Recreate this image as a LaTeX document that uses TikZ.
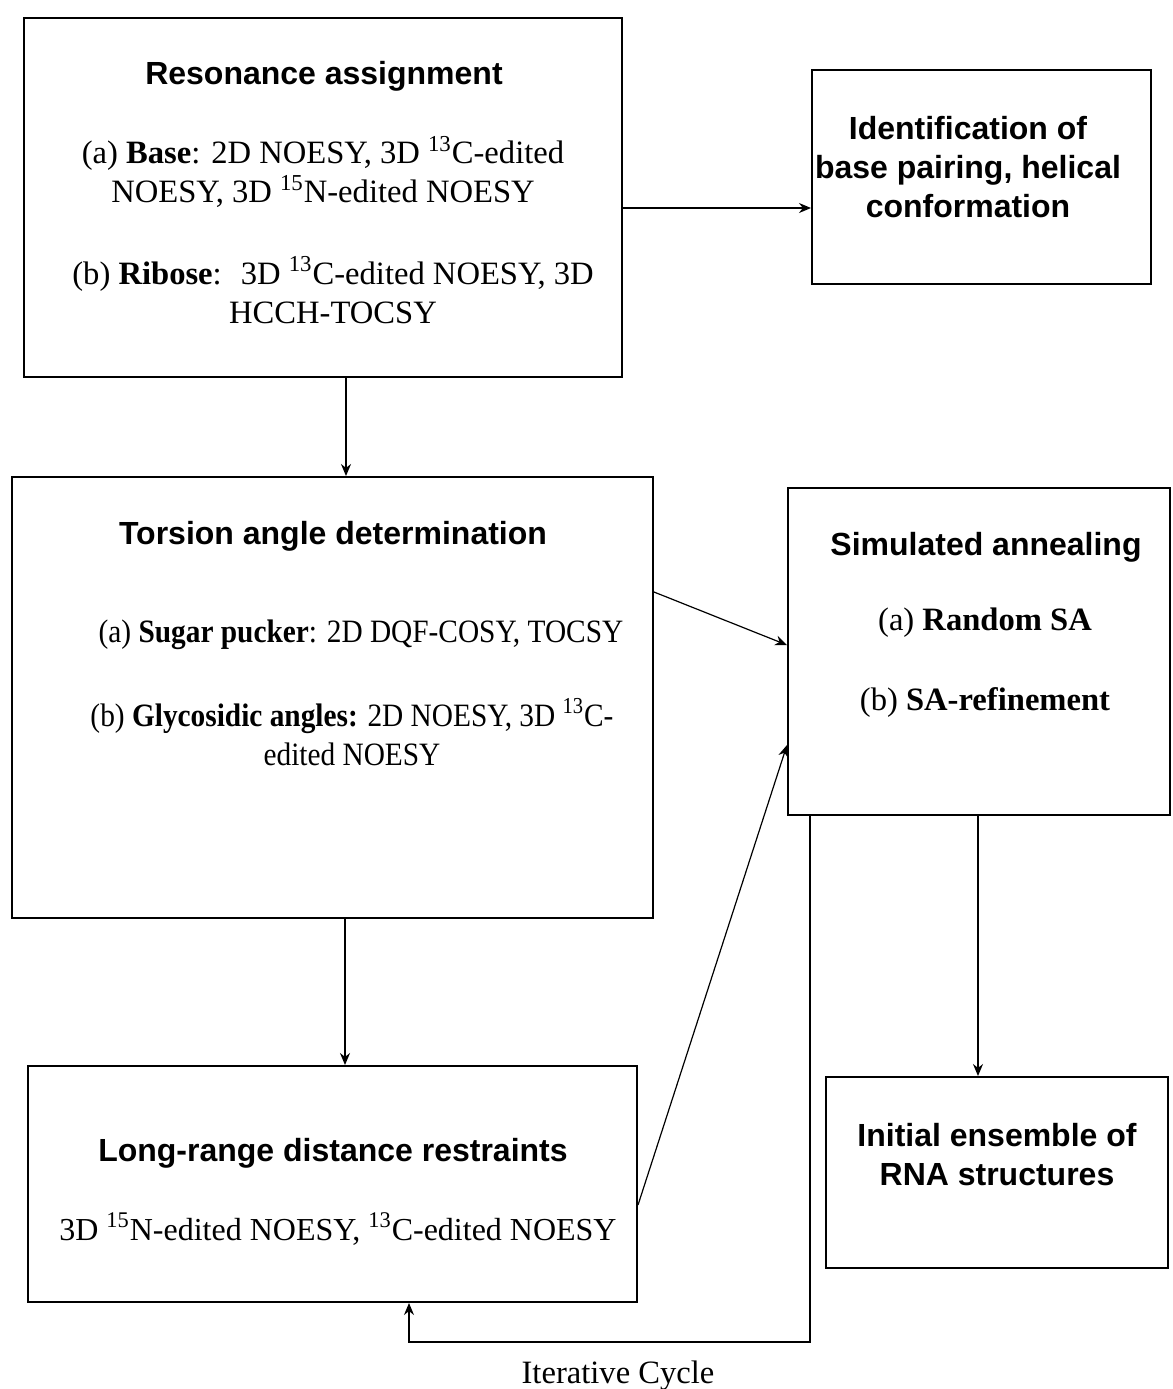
\documentclass[tikz,border=0pt]{standalone}
\usepackage{fontspec}
\setmainfont{Liberation Serif}
\newfontfamily\hv{Liberation Sans}
\newfontfamily\narrowserif[FakeStretch=0.9]{Liberation Serif}
\usetikzlibrary{arrows.meta,fit}
\begin{document}
\begin{tikzpicture}[x=0.5pt,y=-0.5pt,
 box/.style={draw,line width=1pt,inner sep=0pt},
 ttl/.style={font=\hv\bfseries\fontsize{16}{19.5}\selectfont,align=center,inner sep=0pt},
 txt/.style={font=\fontsize{16.3}{19.5}\selectfont,align=center,inner sep=0pt},
 txs/.style={font=\narrowserif\fontsize{16.3}{19.5}\selectfont,align=center,inner sep=0pt},
 arr/.style={-{Stealth[length=6pt,width=5pt]},line width=0.6pt}]
\useasboundingbox (0,0) rectangle (1173,1389);
% boxes
\node[box,fit={(24,18)(622,377)}] (b1) {};
\node[box,fit={(812,70)(1151,284)}] (b2) {};
\node[box,fit={(12,477)(653,918)}] (b3) {};
\node[box,fit={(788,488)(1170,815)}] (b4) {};
\node[box,fit={(28,1066)(637,1302)}] (b5) {};
\node[box,fit={(826,1077)(1168,1268)}] (b6) {};
% texts
\node[ttl] (t1) at (324,76) {Resonance assignment};
\node[txt] (t1a) at (323,172) {(a) \textbf{Base}: 2D NOESY, 3D \textsuperscript{13}C-edited\\NOESY, 3D \textsuperscript{15}N-edited NOESY};
\node[txt] (t1b) at (333,290) {(b) \textbf{Ribose}:~ 3D \textsuperscript{13}C-edited NOESY, 3D\\HCCH-TOCSY};
\node[ttl] (t2) at (968,167) {Identification of\\base pairing, helical\\conformation};
\node[ttl] (t3) at (333,536) {Torsion angle determination};
\node[txs] (t3a) at (361,635) {(a) \textbf{Sugar pucker}: 2D DQF-COSY, TOCSY};
\node[txs] (t3b) at (352,732) {(b) \textbf{Glycosidic angles:} 2D NOESY, 3D \textsuperscript{13}C-\\edited NOESY};
\node[ttl] (t4) at (986,547) {Simulated annealing};
\node[txt] (t4a) at (985,623) {(a) \textbf{Random SA}};
\node[txt] (t4b) at (985,702) {(b) \textbf{SA-refinement}};
\node[ttl] (t5) at (333,1153) {Long-range distance restraints};
\node[txt,font=\fontsize{16}{19.5}\selectfont] (t5a) at (338,1229) {3D \textsuperscript{15}N-edited NOESY, \textsuperscript{13}C-edited NOESY};
\node[ttl] (t6) at (997,1155) {Initial ensemble of\\RNA structures};
\node[txt] (lab) at (618,1376) {Iterative Cycle};
% connectors
\draw[arr] (b1.east |- 0,208) -- (b2.west |- 0,208);
\draw[arr] (b1.south -| 346,0) -- (b3.north -| 346,0);
\draw[arr] (b3.east |- 0,592) -- (b4.west |- 0,645);
\draw[arr] (b5.east |- 0,1205) -- (b4.west |- 0,745);
\draw[arr] (b3.south -| 345,0) -- (b5.north -| 345,0);
\draw[arr] (b4.south -| 978,0) -- (b6.north -| 978,0);
\coordinate (c1) at (810,1342);
\coordinate (c2) at (409,1342);
\draw[arr] (b4.south -| c1) -- (c1) -- (c2) -- (b5.south -| c2);
\end{tikzpicture}
\end{document}
